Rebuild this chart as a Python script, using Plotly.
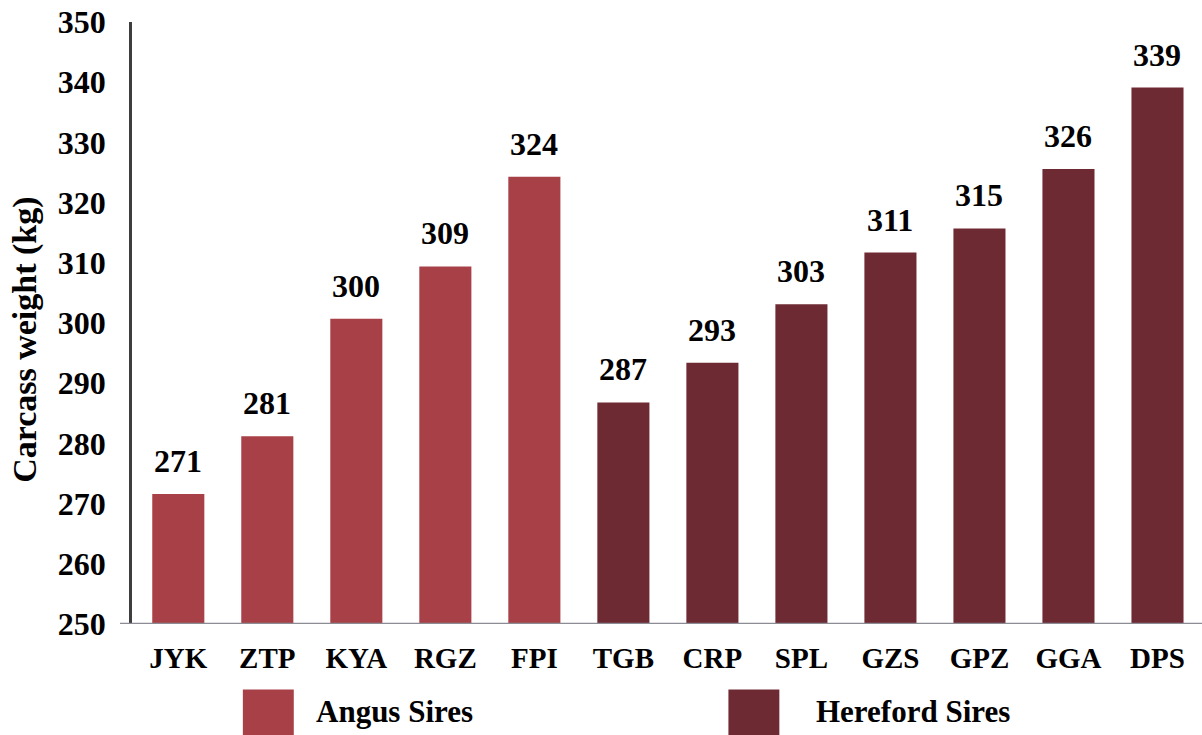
import plotly.graph_objects as go

categories = ["JYK", "ZTP", "KYA", "RGZ", "FPI", "TGB", "CRP", "SPL", "GZS", "GPZ", "GGA", "DPS"]
values = [271.6, 281.2, 300.7, 309.4, 324.3, 286.8, 293.4, 303.1, 311.7, 315.7, 325.6, 339.1]
value_labels = ["271", "281", "300", "309", "324", "287", "293", "303", "311", "315", "326", "339"]
breed = ["Angus"] * 5 + ["Hereford"] * 7
breed_names = {"Angus": "Angus Sires", "Hereford": "Hereford Sires"}
breed_colors = {"Angus": "#a84047", "Hereford": "#6e2a33"}
y_ticks = [250, 260, 270, 280, 290, 300, 310, 320, 330, 340, 350]

FONT = "Liberation Serif"

fig = go.Figure()
fig.add_trace(go.Bar(
    x=categories, y=values,
    marker=dict(color=[breed_colors[b] for b in breed], line=dict(width=0)),
    width=0.585, showlegend=False, hoverinfo="x+y",
))

for c, v, t in zip(categories, values, value_labels):
    fig.add_annotation(x=c, y=v, text=t, showarrow=False,
                       yanchor="bottom", yshift=13,
                       font=dict(family=FONT, size=32, color="black", weight="bold"))

# legend (custom large swatches)
legend_items = [("Angus", 0.1036, 0.170), ("Hereford", 0.5574, 0.637)]
for key, sx, tx in legend_items:
    fig.add_shape(type="rect", xref="paper", yref="paper",
                  x0=sx, x1=sx + 0.0476, y0=-0.109, y1=-0.2,
                  fillcolor=breed_colors[key], line=dict(width=0))
    fig.add_annotation(xref="paper", yref="paper", x=tx, y=-0.146,
                       text=breed_names[key], showarrow=False,
                       xanchor="left", yanchor="middle",
                       font=dict(family=FONT, size=31, color="black", weight="bold"))

# y-axis title
fig.add_annotation(xref="paper", yref="paper", x=-0.1, y=0.472,
                   text="Carcass weight (kg)", showarrow=False, textangle=-90,
                   xanchor="center", yanchor="middle",
                   font=dict(family=FONT, size=34, color="black", weight="bold"))

# baseline extending left of the y axis
fig.add_shape(type="line", xref="paper", yref="y", x0=-0.0112, x1=1, y0=250, y1=250,
              line=dict(color="#8c8c94", width=2.5), layer="above")

fig.update_layout(
    width=1202, height=735,
    margin=dict(l=132, r=0, t=22, b=111),
    paper_bgcolor="white", plot_bgcolor="white",
    xaxis=dict(range=[-0.52, 11.5], showgrid=False, showline=False, ticks="",
               automargin=False,
               tickfont=dict(family=FONT, size=29, color="black", weight="bold"),
               ticklabelstandoff=14),
    yaxis=dict(range=[250, 350], tickvals=y_ticks, showgrid=False, zeroline=False,
               automargin=False,
               showline=True, linecolor="#3e3e3e", linewidth=2.5, ticks="",
               tickfont=dict(family=FONT, size=32, color="black", weight="bold"),
               ticklabelstandoff=17),
)

fig.write_html("out.html", config={"displayModeBar": False},
               post_script="document.body.style.margin='0';document.body.style.overflow='hidden';")
